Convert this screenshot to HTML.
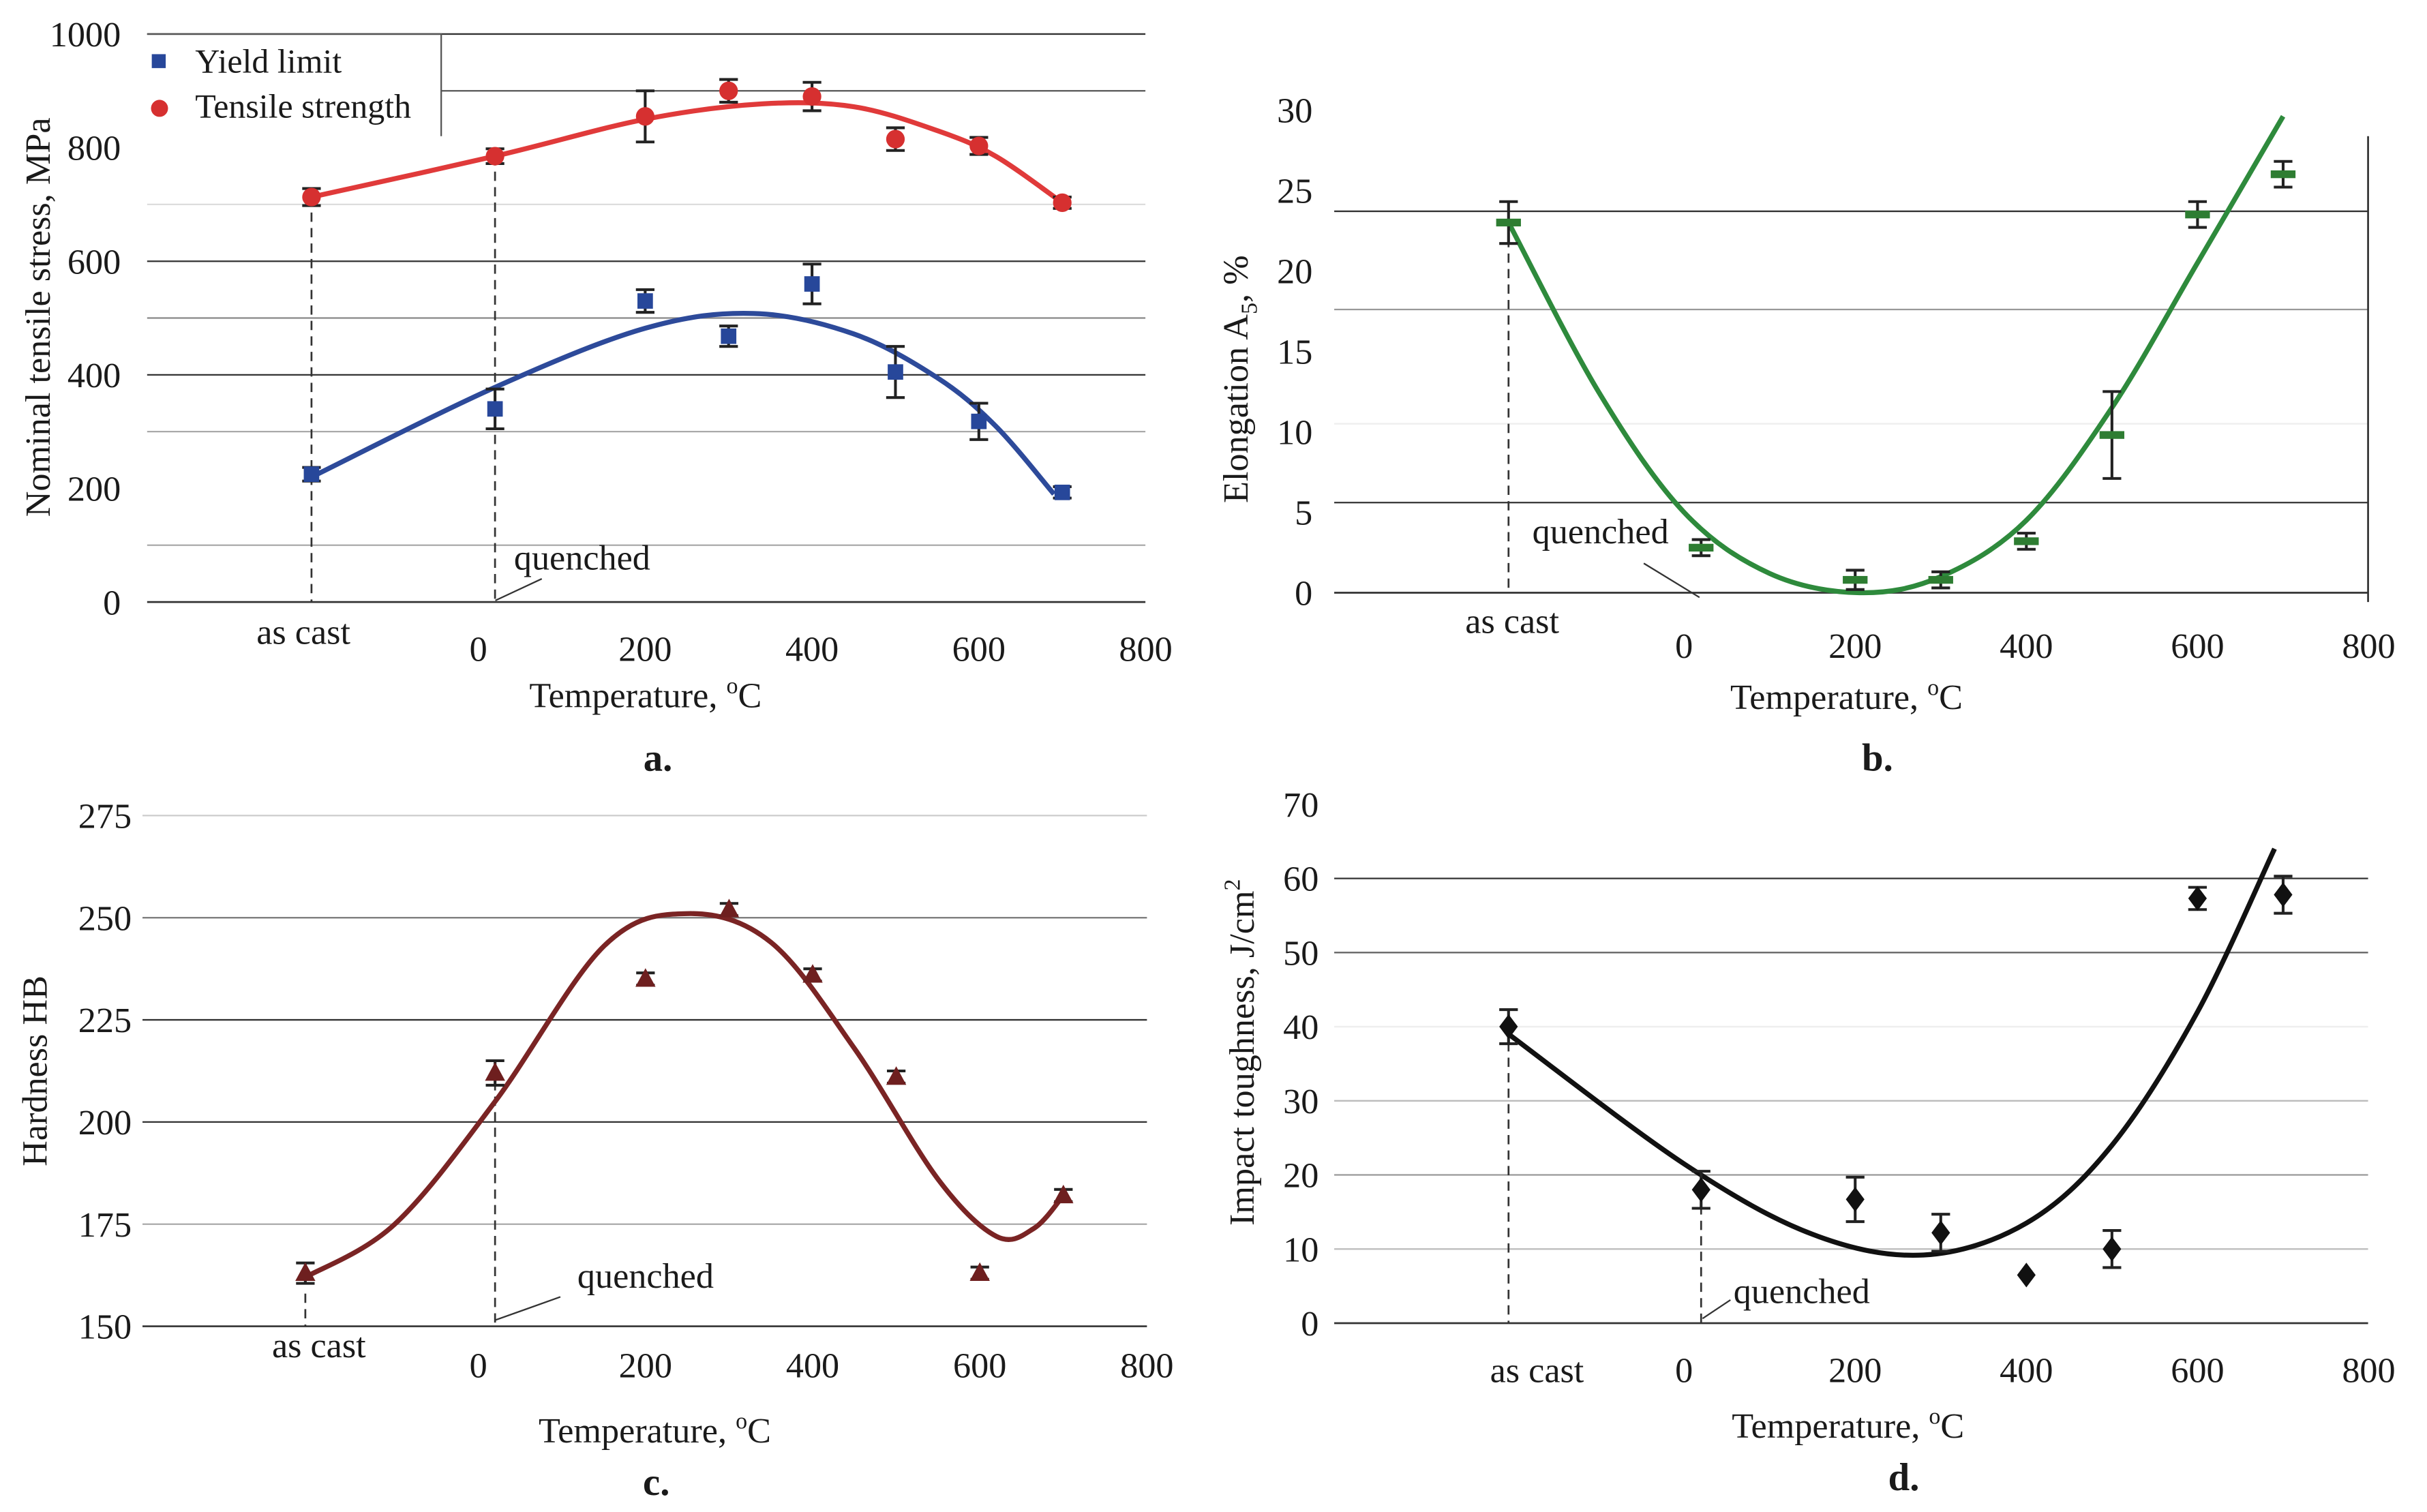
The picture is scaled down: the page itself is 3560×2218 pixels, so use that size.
<!DOCTYPE html>
<html><head><meta charset="utf-8"><style>
html,body{margin:0;padding:0;background:#fff}
svg{display:block}
text{font-family:"Liberation Serif",serif;fill:#1a1a1a}
</style></head><body>
<svg id="fig" width="3560" height="2218" viewBox="0 0 1568 977" xmlns="http://www.w3.org/2000/svg">
<rect width="1568" height="977" fill="#fff"/>
</svg>
<script>
// ---------- DATA ----------
const tempsA = [-200, 20, 200, 300, 400, 500, 600, 700];
const tensileVals = [713, 785, 855, 900, 890, 815, 803, 703];
const tensileErr = [15, 13, 45, 20, 25, 20, 15, 10];
const yieldVals = [225, 340, 530, 468, 560, 405, 318, 193];
const yieldErr = [12, 35, 20, 18, 35, 45, 32, 10];
const tensileFitT = [-200, 20, 200, 340, 450, 550, 620, 700];
const tensileFitV = [713, 785, 850, 877, 872, 830, 785, 703];
const yieldFitT = [-200, 20, 200, 330, 450, 550, 620, 690];
const yieldFitV = [220, 378, 482, 508, 472, 395, 310, 190];

const tempsB = [-205, 20, 200, 300, 400, 500, 600, 700];
const elongVals = [23, 2.8, 0.8, 0.8, 3.2, 9.8, 23.5, 26];
const elongErr = [1.3, 0.5, 0.6, 0.5, 0.5, 2.7, 0.8, 0.8];
const elongFitT = [-205, -100, 0, 100, 205, 300, 400, 500, 600, 700];
const elongFitV = [23, 12.5, 5, 1.2, 0, 1, 4.5, 11.5, 20.5, 29.6];

const tempsC = [-207, 20, 200, 300, 400, 500, 600, 700];
const hardVals = [163, 212, 235, 252, 236, 211, 163, 182];
const hardErr = [2.5, 3, 1.5, 1.5, 1.5, 1.5, 1.5, 1.5];
const hardFitT = [-207, -100, 20, 150, 250, 350, 450, 550, 620, 665, 700];
const hardFitV = [162, 175, 205, 243, 251, 244, 218, 186, 172, 174, 182];

const tempsD = [-205, 20, 200, 300, 400, 500, 600, 700];
const impactVals = [40, 18, 16.7, 12.2, 6.5, 10, 57.3, 57.8];
const impactErr = [2.3, 2.5, 3, 2.5, 0, 2.5, 1.5, 2.5];
const impactFitT = [-205, 0, 150, 280, 400, 500, 600, 690];
const impactFitV = [39, 21.5, 12, 9.2, 13.5, 24, 42, 64];

const xTicks = [0, 200, 400, 600, 800];
const yTicksA = [0, 200, 400, 600, 800, 1000];
const yTicksB = [0, 5, 10, 15, 20, 25, 30];
const yTicksC = [150, 175, 200, 225, 250, 275];
const yTicksD = [0, 10, 20, 30, 40, 50, 60, 70];

// ---------- HELPERS ----------
const NS = "http://www.w3.org/2000/svg";
const svg = document.getElementById('fig');
function mk(tag, attrs, parent, txt) {
  const e = document.createElementNS(NS, tag);
  for (const k in attrs) e.setAttribute(k, attrs[k]);
  if (txt !== undefined) e.textContent = txt;
  (parent || svg).appendChild(e);
  return e;
}
function smoothPath(pts) {
  let d = `M${pts[0][0]},${pts[0][1]}`;
  for (let i = 0; i < pts.length - 1; i++) {
    const p0 = pts[Math.max(0, i - 1)], p1 = pts[i], p2 = pts[i + 1], p3 = pts[Math.min(pts.length - 1, i + 2)];
    const c1x = p1[0] + (p2[0] - p0[0]) / 6, c1y = p1[1] + (p2[1] - p0[1]) / 6;
    const c2x = p2[0] - (p3[0] - p1[0]) / 6, c2y = p2[1] - (p3[1] - p1[1]) / 6;
    d += ` C${c1x},${c1y} ${c2x},${c2y} ${p2[0]},${p2[1]}`;
  }
  return d;
}

function panel(cfg) {
  const g = mk('g', {});
  
  
  const X = t => cfg.x0 + t * cfg.xs;
  const Y = v => cfg.yBase - (v - cfg.yMin) * cfg.ys;
  cfg.grids.forEach(gr => {
    const l = mk('line', {x1: gr[2] || cfg.left, x2: cfg.right, y1: Y(gr[0]), y2: Y(gr[0]), stroke: gr[1], 'stroke-width': 1}, g);
    
    
  });
  const ax = mk('line', {x1: cfg.left, x2: cfg.right, y1: Y(cfg.yMin), y2: Y(cfg.yMin), stroke: '#333', 'stroke-width': 1.2}, g);
  
  
  if (cfg.rightBorder) {
    const rb = mk('line', {x1: cfg.right, x2: cfg.right, y1: cfg.rightBorder, y2: Y(cfg.yMin) + 6, stroke: '#333', 'stroke-width': 1.2}, g);
    
    
  }
  cfg.yTicks.forEach(v => {
    const t = mk('text', {x: cfg.yLabX, y: Y(v) + 8, 'text-anchor': 'end', 'font-size': 23}, g, String(v));
    
    
  });
  xTicks.forEach(v => {
    const t = mk('text', {x: X(v), y: cfg.xLabY, 'text-anchor': 'middle', 'font-size': 23}, g, String(v));
    
    
  });
  cfg.dashes.forEach(d => {
    const l = mk('line', {x1: X(d[0]), x2: X(d[0]), y1: Y(d[1]), y2: Y(cfg.yMin), stroke: '#333', 'stroke-width': 1.2, 'stroke-dasharray': '6,4'}, g);
    
    
  });
  const ac = mk('text', {x: cfg.asCast[0], y: cfg.asCast[1], 'text-anchor': 'middle', 'font-size': 23}, g, 'as cast');
  
  
  const q = mk('text', {x: cfg.quench[0], y: cfg.quench[1], 'font-size': 23}, g, 'quenched');
  
  
  const ql = mk('line', {x1: cfg.qline[0], y1: cfg.qline[1], x2: cfg.qline[2], y2: cfg.qline[3], stroke: '#333', 'stroke-width': 1}, g);
  
  
  const xt = mk('text', {x: cfg.xTitle[0], y: cfg.xTitle[1], 'text-anchor': 'middle', 'font-size': 23}, g);
  xt.innerHTML = 'Temperature, <tspan dy="-9" font-size="15">o</tspan><tspan dy="9">C</tspan>';
  
  
  const yt = mk('text', {x: 0, y: 0, 'text-anchor': 'middle', 'font-size': 23, transform: `translate(${cfg.yTitle[0]},${cfg.yTitle[1]}) rotate(-90)`}, g);
  yt.innerHTML = cfg.yTitleHtml;
  
  
  const pl = mk('text', {x: cfg.plabel[0], y: cfg.plabel[1], 'text-anchor': 'middle', 'font-size': 25, 'font-weight': 'bold'}, g, cfg.plabelText);
  
  
  cfg.series.forEach(s => {
    const pts = s.fitT.map((t, i) => [X(t), Y(s.fitV[i])]);
    const p = mk('path', {d: smoothPath(pts), fill: 'none', stroke: s.color, 'stroke-width': 3.2}, g);
    
    
    s.t.forEach((t, i) => {
      const cx = X(t), cy = Y(s.v[i]);
      if (s.err[i] > 0) {
        const e1 = Y(s.v[i] + s.err[i]), e2 = Y(s.v[i] - s.err[i]);
        const eb = mk('path', {d: `M${cx},${e1}V${e2}M${cx - 6},${e1}H${cx + 6}M${cx - 6},${e2}H${cx + 6}`, stroke: '#222', 'stroke-width': 1.8, fill: 'none'}, g);
        
        
      }
      let m;
      if (s.marker === 'square') m = mk('rect', {x: cx - 5, y: cy - 5, width: 10, height: 10, fill: s.mcolor}, g);
      else if (s.marker === 'circle') m = mk('circle', {cx: cx, cy: cy, r: 6, fill: s.mcolor}, g);
      else if (s.marker === 'dash') m = mk('rect', {x: cx - 8, y: cy - 2.5, width: 16, height: 5, fill: s.mcolor}, g);
      else if (s.marker === 'triangle') m = mk('path', {d: `M${cx},${cy - 7}L${cx + 6.5},${cy + 5}L${cx - 6.5},${cy + 5}Z`, fill: s.mcolor}, g);
      else m = mk('path', {d: `M${cx},${cy - 8}L${cx + 6},${cy}L${cx},${cy + 8}L${cx - 6},${cy}Z`, fill: s.mcolor}, g);
      
      
    });
  });
  return g;
}

panel({
  name: 'panel-a-tensile', x0: 309, xs: 0.539, yBase: 389, yMin: 0, ys: 0.367, left: 95, right: 740,
  grids: [[1000,'#333',95],[900,'#555',285],[700,'#ddd'],[600,'#333'],[500,'#888'],[400,'#333'],[300,'#aaa'],[100,'#aaa']],
  yTicks: yTicksA, yLabX: 78, xLabY: 427,
  dashes: [[-200, 713], [20, 785]],
  asCast: [196, 416], quench: [332, 368], qline: [320, 388, 350, 374],
  xTitle: [417, 457], yTitle: [32, 205], yTitleHtml: 'Nominal tensile stress, MPa',
  plabel: [425, 498], plabelText: 'a.',
  series: [
    {name: 'tensile-strength', t: tempsA, v: tensileVals, err: tensileErr, fitT: tensileFitT, fitV: tensileFitV, color: '#e03a3a', mcolor: '#d63030', marker: 'circle'},
    {name: 'yield-limit', t: tempsA, v: yieldVals, err: yieldErr, fitT: yieldFitT, fitV: yieldFitV, color: '#2d4a9a', mcolor: '#27479a', marker: 'square'}
  ]
});
const lg = mk('g', {});


mk('path', {d: 'M95,22H285V88', fill: 'none', stroke: '#555', 'stroke-width': 1}, lg);
const lr1 = mk('rect', {x: 98, y: 35, width: 9, height: 9, fill: '#27479a'}, lg);


const lt1 = mk('text', {x: 126, y: 47, 'font-size': 22}, lg, 'Yield limit');


const lc2 = mk('circle', {cx: 103, cy: 70, r: 5.5, fill: '#d63030'}, lg);


const lt2 = mk('text', {x: 126, y: 76, 'font-size': 22}, lg, 'Tensile strength');



panel({
  name: 'panel-b-elongation', x0: 1088, xs: 0.553, yBase: 383, yMin: 0, ys: 10.4, left: 862, right: 1530, rightBorder: 88,
  grids: [[23.7,'#333'],[17.6,'#999'],[10.5,'#eee'],[5.6,'#333']],
  yTicks: yTicksB, yLabX: 848, xLabY: 425,
  dashes: [[-205, 23]],
  asCast: [977, 409], quench: [990, 351], qline: [1062, 364, 1098, 386],
  xTitle: [1193, 458], yTitle: [806, 245], yTitleHtml: 'Elongation A<tspan dy="6" font-size="15">5</tspan><tspan dy="-6">, %</tspan>',
  plabel: [1213, 498], plabelText: 'b.',
  series: [
    {name: 'elongation', t: tempsB, v: elongVals, err: elongErr, fitT: elongFitT, fitV: elongFitV, color: '#2e8a3c', mcolor: '#2e7d32', marker: 'dash'}
  ]
});

panel({
  name: 'panel-c-hardness', x0: 309, xs: 0.54, yBase: 857, yMin: 150, ys: 2.64, left: 92, right: 741,
  grids: [[275,'#ccc'],[250,'#777'],[225,'#333'],[200,'#333'],[175,'#aaa']],
  yTicks: yTicksC, yLabX: 85, xLabY: 890,
  dashes: [[-207, 158], [20, 210]],
  asCast: [206, 877], quench: [373, 832], qline: [320, 853, 362, 838],
  xTitle: [423, 932], yTitle: [30, 692], yTitleHtml: 'Hardness HB',
  plabel: [424, 966], plabelText: 'c.',
  series: [
    {name: 'hardness', t: tempsC, v: hardVals, err: hardErr, fitT: hardFitT, fitV: hardFitV, color: '#7a2424', mcolor: '#6e1f1f', marker: 'triangle'}
  ]
});

panel({
  name: 'panel-d-impact', x0: 1088, xs: 0.553, yBase: 855, yMin: 0, ys: 4.79, left: 862, right: 1530,
  grids: [[60,'#333'],[50,'#666'],[40,'#eee'],[30,'#bbb'],[20,'#999'],[10,'#bbb']],
  yTicks: yTicksD, yLabX: 852, xLabY: 893,
  dashes: [[-205, 40], [20, 18]],
  asCast: [993, 893], quench: [1120, 842], qline: [1100, 852, 1118, 840],
  xTitle: [1194, 929], yTitle: [810, 680], yTitleHtml: 'Impact toughness,  J/cm<tspan dy="-9" font-size="15">2</tspan>',
  plabel: [1230, 963], plabelText: 'd.',
  series: [
    {name: 'impact-toughness', t: tempsD, v: impactVals, err: impactErr, fitT: impactFitT, fitV: impactFitV, color: '#111', mcolor: '#111', marker: 'diamond'}
  ]
});
</script>
</body></html>
